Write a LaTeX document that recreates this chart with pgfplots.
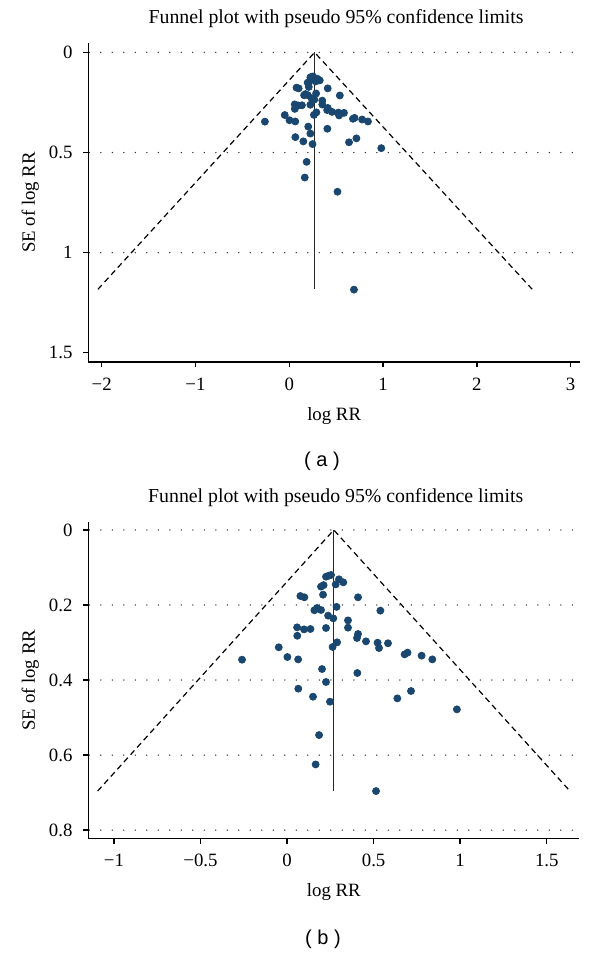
\documentclass[border=0pt]{standalone}
\usepackage{fontspec}
\setmainfont{Liberation Serif}
\newfontfamily\sansf{Liberation Sans}
\usepackage{pgfplots}
\usepackage{pgfplotstable}
\pgfplotsset{compat=1.18}
\definecolor{navy}{RGB}{26,71,111}

\pgfplotstableread{
x y
0.225 0.1245
0.240 0.1220
0.254 0.1200
0.300 0.1315
0.325 0.1396
0.281 0.1450
0.196 0.1510
0.211 0.1470
0.208 0.1725
0.077 0.1760
0.100 0.1795
0.410 0.1795
0.286 0.2050
0.539 0.2150
0.158 0.2140
0.173 0.2080
0.196 0.2133
0.237 0.2284
0.267 0.2356
0.352 0.2410
0.352 0.2604
0.058 0.2596
0.098 0.2650
0.135 0.2640
0.225 0.2613
0.059 0.2820
0.410 0.2773
0.404 0.2880
0.456 0.2970
0.523 0.3005
0.531 0.3147
0.583 0.3020
0.289 0.2995
0.263 0.3120
-0.048 0.3128
0.002 0.3387
0.064 0.3450
-0.260 0.3458
0.679 0.3316
0.696 0.3270
0.777 0.3351
0.839 0.3450
0.202 0.3707
0.406 0.3813
0.225 0.4053
0.065 0.4231
0.716 0.4293
0.150 0.4444
0.248 0.4578
0.637 0.4489
0.981 0.4782
0.185 0.5467
0.165 0.6250
0.514 0.6960
}\studies

\pgfplotstableread{
x y
0.690 1.185
}\outlier

\pgfplotsset{funnel/.style={
  scale only axis,
  y dir=reverse,
  axis x line*=bottom,
  axis y line*=left,
  axis line style={line width=0.7pt,-},
  tick align=outside,
  major tick length=2.5pt,
  every tick/.style={line width=0.7pt,black},
  ymajorgrids,
  grid style={line width=0.75pt,black!80,dash pattern=on 0pt off 5.75pt,dash phase=-0.5pt,line cap=round},
  /pgf/number format/assume math mode=true,
  tick label style={font=\fontsize{9.4}{11}\selectfont},
  xticklabel style={anchor=base,yshift=-11.5pt},
  yticklabel style={anchor=east,xshift=-1.9pt},
  label style={font=\fontsize{9.4}{11}\selectfont},
  title style={font=\fontsize{9.9}{12}\selectfont,at={(axis description cs:0.504,1)},anchor=base,yshift=3.7pt},
  xlabel style={at={(axis description cs:0.5,0)},anchor=base,yshift=-29pt},
  ylabel style={at={(axis description cs:-0.118,0.5)},anchor=center},
  title={Funnel plot with pseudo 95\% confidence limits},
  xlabel={log RR},
  ylabel={SE of log RR},
  dots/.style={only marks,mark=*,mark size=1.75pt,navy,mark options={draw=navy,fill=navy}},
}}

\begin{document}
\begin{tikzpicture}
\useasboundingbox (0,0) rectangle (300pt,-477pt);

% ---------- panel (a) ----------
\begin{axis}[funnel,
  at={(44.15pt,-181pt)}, anchor=south west,
  width=245.85pt, height=159.5pt,
  xmin=-2.143, xmax=3.1, ymin=-0.047, ymax=1.5465,
  xtick={-2,-1,0,1,2,3}, xticklabels={−2,−1,0,1,2,3},
  ytick={0,0.5,1}, yticklabels={0,0.5,1},
  extra y ticks={1.5}, extra y tick labels={1.5},
  extra y tick style={grid=none},
]
\addplot[black,line width=0.6pt,dash pattern=on 2.9pt off 2pt] coordinates {(-2.04,1.183) (0.27,0) (2.59,1.183)};
\addplot[black!85,line width=0.65pt] coordinates {(0.27,0) (0.27,1.183)};
\addplot[dots] table[x=x,y=y] {\studies};
\addplot[dots] table[x=x,y=y] {\outlier};
\end{axis}
\node[font=\sansf\fontsize{10}{12}\selectfont] at (161pt,-230.85pt) {( a )};

% ---------- panel (b) ----------
\begin{axis}[funnel,
  at={(44.15pt,-419.35pt)}, anchor=south west,
  width=245.5pt, height=158.5pt,
  xmin=-1.148, xmax=1.688, ymin=-0.022, ymax=0.823,
  xtick={-1,-0.5,0,0.5,1,1.5}, xticklabels={−1,−0.5,0,0.5,1,1.5},
  ytick={0,0.2,0.4,0.6,0.8}, yticklabels={0,0.2,0.4,0.6,0.8},
]
\addplot[black,line width=0.6pt,dash pattern=on 2.9pt off 2pt] coordinates {(-1.094,0.696) (0.27,0) (1.634,0.696)};
\addplot[black!85,line width=0.65pt] coordinates {(0.27,0) (0.27,0.696)};
\addplot[dots] table[x=x,y=y] {\studies};
\end{axis}
\node[font=\sansf\fontsize{10}{12}\selectfont] at (161.5pt,-469.5pt) {( b )};
\end{tikzpicture}
\end{document}
